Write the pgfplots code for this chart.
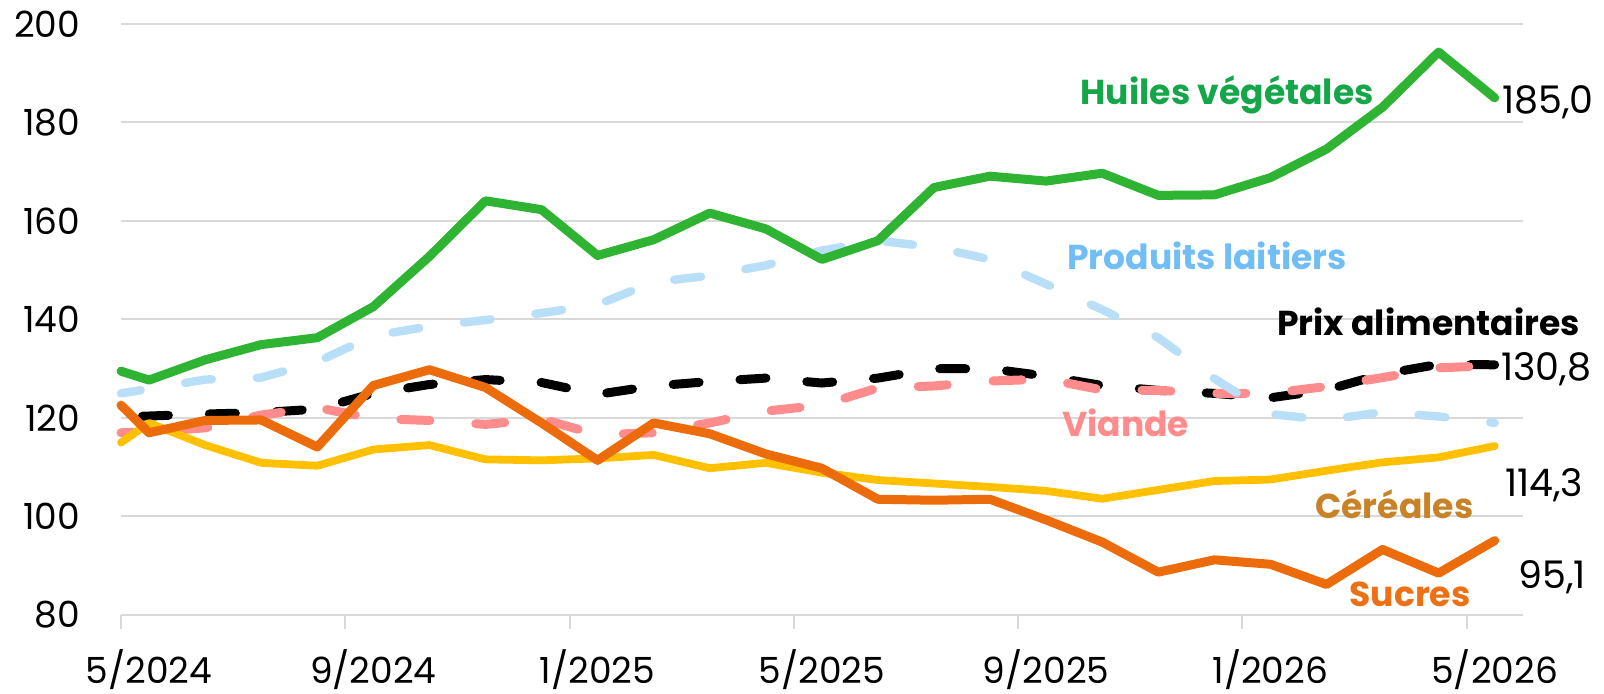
\documentclass[border=0pt]{standalone}
\usepackage{fontspec}
\setmainfont{Poppins}
\usepackage{pgfplots}
\pgfplotsset{compat=1.18}
\definecolor{gridgray}{RGB}{217,217,217}
\definecolor{greenL}{RGB}{46,180,50}
\definecolor{greenT}{RGB}{20,166,72}
\definecolor{blueL}{RGB}{184,222,248}
\definecolor{blueT}{RGB}{112,190,245}
\definecolor{pinkL}{RGB}{255,140,140}
\definecolor{yellowL}{RGB}{255,192,0}
\definecolor{cerealT}{RGB}{200,130,40}
\definecolor{orangeL}{RGB}{236,108,12}
\definecolor{sucresT}{RGB}{238,112,20}

\pgfplotstableread{
x y
0 129.5
0.5 127.7
1.5 131.8
2.5 134.9
3.5 136.3
4.5 142.6
5.5 152.8
6.5 164.1
7.5 162.3
8.5 153.0
9.5 156.2
10.5 161.6
11.5 158.4
12.5 152.2
13.5 156.0
14.5 166.8
15.5 169.1
16.5 168.1
17.5 169.7
18.5 165.2
19.5 165.3
20.5 168.8
21.5 174.6
22.5 183.1
23.5 194.3
24.5 185.0
}\huiles

\pgfplotstableread{
x y
0 120.2
0.5 120.4
1.5 120.8
2.5 121.1
3.5 121.8
4.5 125.0
5.5 126.8
6.5 127.8
7.5 127.2
8.5 124.8
9.5 126.5
10.5 127.4
11.5 128.1
12.5 127.1
13.5 128.1
14.5 130.0
15.5 130.0
16.5 128.5
17.5 126.6
18.5 125.6
19.5 125.0
20.5 124.1
21.5 125.7
22.5 128.9
23.5 130.9
24.5 130.8
}\prix

\pgfplotstableread{
x y
0 117.0
0.5 117.2
1.5 118.0
2.5 120.6
3.5 122.1
4.5 119.9
5.5 119.5
6.5 118.7
7.5 119.8
8.5 116.6
9.5 117.0
10.5 119.0
11.5 121.4
12.5 122.6
13.5 126.1
14.5 126.5
15.5 127.5
16.5 127.9
17.5 125.7
18.5 125.6
19.5 125.0
20.5 125.0
21.5 126.4
22.5 128.2
23.5 130.2
24.5 130.6
}\viande

\pgfplotstableread{
x y
0 125.0
0.5 125.9
1.5 127.8
2.5 128.2
3.5 131.4
4.5 136.7
5.5 138.6
6.5 139.9
7.5 141.3
8.5 143.0
9.5 147.6
10.5 148.9
11.5 151.0
12.5 154.0
13.5 156.0
14.5 154.7
15.5 152.2
16.5 147.2
17.5 142.0
18.5 136.3
19.5 128.0
20.5 120.8
21.5 119.6
22.5 121.2
23.5 120.3
24.5 119.0
}\laitiers

\pgfplotstableread{
x y
0 115.0
0.5 119.0
1.5 114.5
2.5 110.9
3.5 110.3
4.5 113.6
5.5 114.5
6.5 111.6
7.5 111.4
8.5 111.8
9.5 112.5
10.5 109.8
11.5 110.9
12.5 108.9
13.5 107.4
14.5 106.7
15.5 106.0
16.5 105.2
17.5 103.6
18.5 105.4
19.5 107.2
20.5 107.5
21.5 109.3
22.5 111.0
23.5 112.0
24.5 114.3
}\cereales

\pgfplotstableread{
x y
0 122.6
0.5 117.0
1.5 119.5
2.5 119.6
3.5 114.1
4.5 126.6
5.5 129.8
6.5 126.2
7.5 119.0
8.5 111.4
9.5 119.0
10.5 116.8
11.5 112.7
12.5 109.8
13.5 103.5
14.5 103.3
15.5 103.5
16.5 99.3
17.5 94.8
18.5 88.7
19.5 91.2
20.5 90.3
21.5 86.2
22.5 93.3
23.5 88.5
24.5 95.1
}\sucres

\begin{document}
\begin{tikzpicture}
\useasboundingbox (-60.5pt,-39.5pt) rectangle (741.5pt,307.5pt);
\begin{axis}[
  at={(0,0)}, anchor=south west, scale only axis,
  width=700.85pt, height=295.5pt,
  xmin=0, xmax=25, ymin=80, ymax=200,
  clip=false,
  axis line style={draw=none},
  xtick={0,4,...,24},
  xticklabels={5/2024,9/2024,1/2025,5/2025,9/2025,1/2026,5/2026},
  ytick={80,100,...,200},
  xtick pos=bottom, ytick pos=left,
  tick align=outside, major tick length=7pt,
  xtick style={draw=gridgray, line width=1pt},
  ytick style={draw=none},
  ymajorgrids, grid style={draw=gridgray, line width=1pt},
  ticklabel style={font=\fontsize{18pt}{20pt}\selectfont},
  xticklabel style={anchor=base, inner sep=0pt, xshift=14pt, yshift=-27.5pt},
  yticklabel style={anchor=east, inner sep=0pt, xshift=-13.3pt},
  /pgf/number format/assume math mode=true,
  every axis plot/.append style={line join=round, line cap=round},
]
\addplot[black, line width=4.5pt, dash pattern=on 13pt off 20.5pt, dash phase=22.8pt] table {\prix};
\addplot[pinkL, line width=4.5pt, dash pattern=on 14.5pt off 23pt, dash phase=8.5pt] table {\viande};
\addplot[blueL, line width=4.2pt, dash pattern=on 13.5pt off 22.5pt, dash phase=3.5pt] table {\laitiers};
\addplot[yellowL, line width=3.9pt] table {\cereales};
\addplot[orangeL, line width=4.5pt] table {\sucres};
\addplot[greenL, line width=4.5pt] table {\huiles};

\begin{scope}[every node/.style={inner sep=0pt, font=\fontsize{17.3pt}{20pt}\selectfont\bfseries}]
\node[anchor=base, text=greenT] at (axis cs:19.73,183.6) {Huiles végétales};
\node[anchor=base, text=blueT] at (axis cs:19.37,150.05) {Produits laitiers};
\node[anchor=base, text=black] at (axis cs:23.32,136.85) {Prix alimentaires};
\node[anchor=base, text=pinkL] at (axis cs:17.92,116.2) {Viande};
\node[anchor=base, text=cerealT] at (axis cs:22.71,99.5) {Céréales};
\node[anchor=base, text=sucresT] at (axis cs:22.99,81.7) {Sucres};
\end{scope}
\begin{scope}[every node/.style={inner sep=0pt, font=\fontsize{19pt}{22pt}\selectfont}]
\node[anchor=base west] at (axis cs:24.63,181.9) {185,0};
\node[anchor=base west] at (axis cs:24.61,127.6) {130,8};
\node[anchor=base west] at (axis cs:24.68,104.0) {114,3};
\node[anchor=base west] at (axis cs:24.92,85.4) {95,1};
\end{scope}
\end{axis}
\end{tikzpicture}
\end{document}
